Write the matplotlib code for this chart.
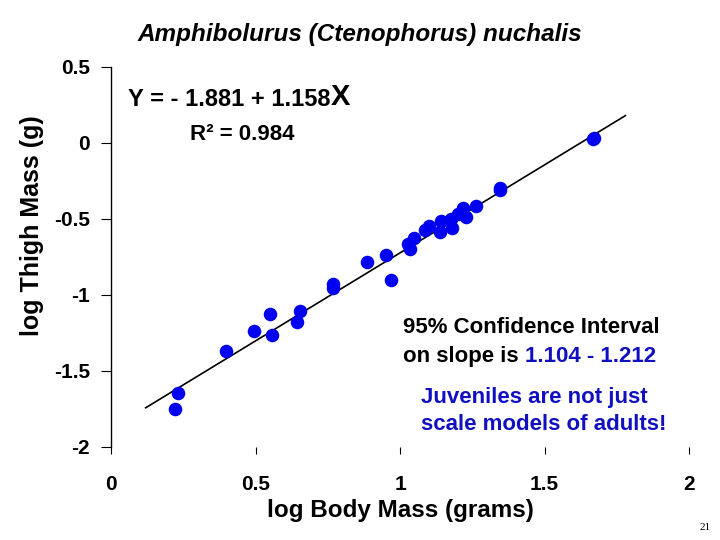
import matplotlib.pyplot as plt
import numpy as np

plt.rcParams['font.family'] = ['Liberation Sans', 'DejaVu Sans']

# log body mass (g) and log thigh mass (g)
log_body = [0.221, 0.233, 0.397, 0.496, 0.550, 0.556, 0.642, 0.654, 0.769, 0.769,
            0.887, 0.952, 0.969, 1.027, 1.035, 1.050, 1.087, 1.101, 1.138, 1.142,
            1.175, 1.179, 1.202, 1.219, 1.228, 1.263, 1.346, 1.346, 1.668, 1.672]
log_thigh = [-1.747, -1.645, -1.371, -1.234, -1.127, -1.262, -1.175, -1.102, -0.927, -0.956,
             -0.785, -0.737, -0.901, -0.667, -0.700, -0.623, -0.573, -0.547, -0.584, -0.514,
             -0.497, -0.562, -0.464, -0.427, -0.486, -0.413, -0.311, -0.295, 0.026, 0.030]

intercept = -1.881
slope = 1.158
fit_range = [0.12, 1.78]

x_ticks = [0, 0.5, 1, 1.5, 2]
x_labels = ['0', '0.5', '1', '1.5', '2']
y_ticks = [0.5, 0, -0.5, -1, -1.5, -2]
y_labels = ['0.5', '0', '-0.5', '-1', '-1.5', '-2']

BLUE = '#0000f0'
TXT_BLUE = '#1010c0'

fig = plt.figure(figsize=(7.2, 5.4), dpi=100)
ax = fig.add_axes([111 / 720, 1 - 447 / 540, 578 / 720, 380 / 540])

xf = np.array(fit_range)
ax.plot(xf, intercept + slope * xf, color='black', lw=1.2, zorder=2)
ax.scatter(log_body, log_thigh, s=95, color=BLUE, zorder=3, linewidths=0)

ax.set_xlim(0, 2)
ax.set_ylim(-2, 0.5)
ax.set_xticks(x_ticks)
ax.set_xticklabels(x_labels, fontsize=15, fontweight='bold')
ax.set_yticks(y_ticks)
ax.set_yticklabels(y_labels, fontsize=15, fontweight='bold')
ax.tick_params(axis='x', direction='out', length=5, pad=15, width=0.8)
ax.tick_params(axis='y', direction='out', length=7, pad=8, width=0.8)

for side in ['top', 'right', 'bottom']:
    ax.spines[side].set_visible(False)
ax.spines['left'].set_linewidth(1.0)

ax.set_xlabel('log Body Mass (grams)', fontsize=17.5, fontweight='bold', labelpad=4)
fig.text(32 / 720, 1 - 226 / 540, 'log Thigh Mass (g)', fontsize=18,
         fontweight='bold', rotation=90, ha='center', va='center')

fig.text(360 / 720, 1 - 41 / 540, 'Amphibolurus (Ctenophorus) nuchalis',
         fontsize=17.5, fontweight='bold', style='italic', ha='center', va='baseline')

eq = fig.text(128 / 720, 1 - 106 / 540, 'Y = - 1.881 + 1.158',
              fontsize=17, fontweight='bold', ha='left', va='baseline')
ax.annotate('X', xy=(1, 0), xycoords=eq, fontsize=21, fontweight='bold',
            ha='left', va='bottom')
fig.text(190 / 720, 1 - 140 / 540, 'R² = 0.984', fontsize=16, fontweight='bold',
         ha='left', va='baseline')

fig.text(403 / 720, 1 - 333 / 540, '95% Confidence Interval', fontsize=16,
         fontweight='bold', ha='left', va='baseline')
ci = fig.text(403 / 720, 1 - 362 / 540, 'on slope is ', fontsize=16,
              fontweight='bold', ha='left', va='baseline')
ax.annotate('1.104 - 1.212', xy=(1, 0), xycoords=ci, fontsize=16, fontweight='bold',
            color=TXT_BLUE, ha='left', va='bottom')

fig.text(421 / 720, 1 - 403 / 540, 'Juveniles are not just', fontsize=16,
         fontweight='bold', color=TXT_BLUE, ha='left', va='baseline')
fig.text(421 / 720, 1 - 430 / 540, 'scale models of adults!', fontsize=16,
         fontweight='bold', color=TXT_BLUE, ha='left', va='baseline')

fig.text(705 / 720, 1 - 527 / 540, '21', fontsize=8, family='Liberation Serif',
         ha='center', va='center')

fig.savefig('out.png', dpi=100)
